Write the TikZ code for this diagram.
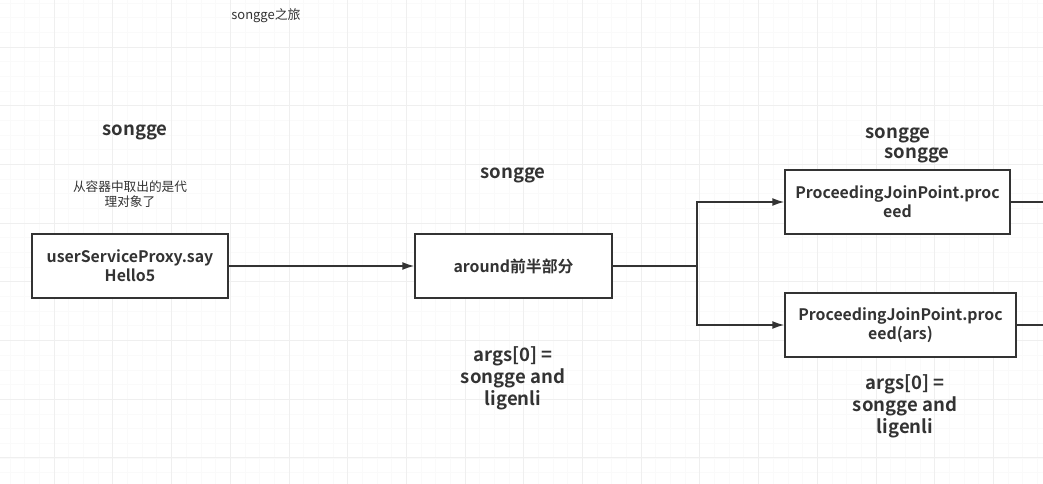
\documentclass[tikz,border=0pt]{standalone}
\usepackage{fontspec}
\setmainfont{Noto Sans CJK SC}[BoldFont={Noto Sans CJK SC Bold}]
\usetikzlibrary{arrows.meta}
\definecolor{ink}{HTML}{333333}
\definecolor{gmaj}{HTML}{EFEFEF}
\definecolor{gmin}{HTML}{FAFAFA}
\tikzset{
  px/.style={x=0.75pt,y=-0.75pt},
  box/.style={draw=ink,line width=1.1pt,fill=white,inner sep=0pt,align=center,
    font=\fontsize{11.9pt}{14pt}\selectfont\bfseries,text=ink,minimum height=48pt},
  lbl/.style={text=ink,align=center,inner sep=0pt,font=\fontsize{13.9pt}{16.5pt}\selectfont\bfseries},
  small/.style={text=ink,align=center,inner sep=0pt,font=\fontsize{9.5pt}{11pt}\selectfont},
  conn/.style={draw=ink,line width=1.1pt},
  arr/.style={conn,-{Latex[length=9pt,width=6pt]}}
}
\begin{document}
\begin{tikzpicture}[px]
\useasboundingbox (0,0) rectangle (1043,484);
\fill[white] (0,0) rectangle (1043,484);
% grid
\foreach \i in {0,...,72} {
  \draw[gmin,line width=0.5pt] ({-4.6+14.675*\i},0) -- ({-4.6+14.675*\i},484);
}
\foreach \i in {0,...,34} {
  \draw[gmin,line width=0.5pt] (0,{-11.7+14.675*\i}) -- (1043,{-11.7+14.675*\i});
}
\foreach \i in {0,...,18} {
  \draw[gmaj,line width=0.6pt] ({-4.6+58.7*\i},0) -- ({-4.6+58.7*\i},484);
}
\foreach \i in {0,...,9} {
  \draw[gmaj,line width=0.6pt] (0,{-11.7+58.7*\i}) -- (1043,{-11.7+58.7*\i});
}
% texts
\node[small,font=\fontsize{9.7pt}{11pt}\selectfont] (title) at (266,16) {songge之旅};
\node[lbl] (s1) at (135,132) {songge};
\node[small] (note) at (130,194) {从容器中取出的是代\\理对象了};
\node[lbl] (s2) at (513,175) {songge};
\node[lbl] (s3) at (898,135) {songge};
\node[lbl] (s4) at (917,155) {songge};
\node[lbl] (a1) at (513,378) {args[0] =\\songge and\\ligenli};
\node[lbl] (a2) at (905,406) {args[0] =\\songge and\\ligenli};
% boxes
\node[box,minimum width=147pt] (b1) at (130,266) {userServiceProxy.say\\Hello5};
\node[box,minimum width=147.75pt] (b2) at (513.5,266) {around前半部分};
\node[box,minimum width=168.75pt] (b3) at (897.5,202) {ProceedingJoinPoint.proc\\eed};
\node[box,minimum width=173.25pt] (b4) at (900.5,325) {ProceedingJoinPoint.proc\\eed(ars)};
% connectors
\coordinate (j) at (697,266);
\coordinate (e3) at (1045,202);
\coordinate (e4) at (1045,325);
\draw[arr] (b1) -- (b2);
\draw[conn] (b2) -- (j);
\draw[arr] (j) |- (b3);
\draw[arr] (j) |- (b4);
\draw[conn] (b3) -- (e3);
\draw[conn] (b4) -- (e4);
\end{tikzpicture}
\end{document}
